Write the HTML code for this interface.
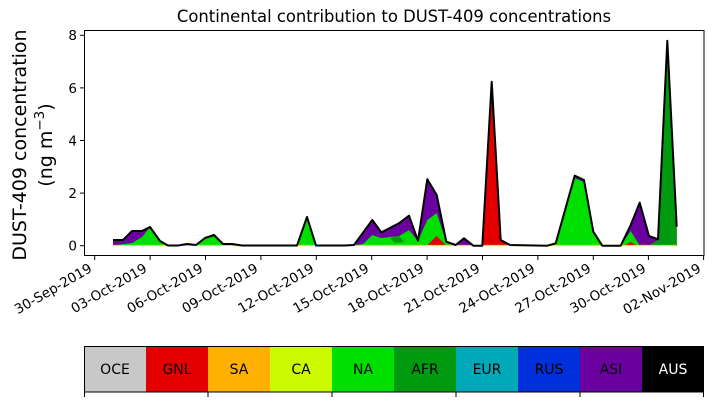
<!DOCTYPE html>
<html><head><meta charset="utf-8"><style>
html,body{margin:0;padding:0;background:#fff;}
svg{display:block;font-family:"DejaVu Sans","Liberation Sans",sans-serif;}
</style></head><body>
<svg width="714" height="402" viewBox="0 0 714 402" xmlns="http://www.w3.org/2000/svg">
<rect width="714" height="402" fill="#fff"/>
<text x="394" y="22" font-size="16.4" text-anchor="middle">Continental contribution to DUST-409 concentrations</text>
<text transform="translate(26,145) rotate(-90)" font-size="19" text-anchor="middle">DUST-409 concentration</text>
<text transform="translate(52,145) rotate(-90)" font-size="19" text-anchor="middle">(ng m<tspan dy="-8" font-size="13.5">−3</tspan><tspan dy="8">)</tspan></text>

<polygon fill="#6a00a0" points="113,245.5 113,240 123,240 132,231 142,231 150,227 160,241 168,245.5 178,245.5 187,244 196,245 205,238 214,235 223,244 232,244 242,245.5 297,245.5 307,217 316,245.5 345,245.5 354,245 372.3,220 381.3,232.3 399,223.3 409,215.7 418,240.7 427.3,179.3 436.7,195 446.3,241.7 455.7,245 464,238.3 473.3,245.7 482.3,245.7 491.7,81.7 500.7,240 510,245 547.3,245.7 555.7,243.3 574.7,175.7 584,180 593.3,231.7 602.3,245.7 620.7,245.7 630.7,225 639.7,202.7 649,236 658,239.3 667.3,40.7 676.7,226.7 676.7,245.7"/>
<polygon fill="#00e000" points="113,245.5 132,243 142,237 150,227 160,241 168,245.5 187,245 196,245 205,238 214,235 223,244.5 232,245 297,245.5 307,219 316,245.5 354,245.5 363,244 372.3,235 381.3,238 399,236 409,230 418,241 427.3,220 436.7,213 446.3,242 455.7,245.5 547,245.5 555.7,244 574.7,178 584,182 593.3,232 602.3,245.7 620.7,245.7 630.7,231 639.7,245.5 649,245.5 658,240 667.3,243 676.7,226.7 676.7,245.7"/>
<polygon fill="#009a10" points="390,238 399,236 404,242 395,243"/>
<polygon fill="#009a10" points="649,245.5 658,240 667.3,41 676.7,227 676.7,245.7 670,245.7"/>
<polygon fill="#e40000" points="482.3,245.7 491.7,100 500.7,241 510,245.7"/>
<polygon fill="#e40000" points="427,245.5 436.7,236 446,245.5"/>
<polygon fill="#e40000" points="624,245.5 630.7,242 637,245.5"/>
<polyline fill="none" stroke="#e8e800" stroke-width="1.2" points="113,245.5 676,245.5"/>
<polyline fill="none" stroke="#000" stroke-width="2" stroke-linejoin="round" points="113,240 123,240 132,231 142,231 150,227 160,241 168,245.5 178,245.5 187,244 196,245 205,238 214,235 223,244 232,244 242,245.5 297,245.5 307,217 316,245.5 345,245.5 354,245 372.3,220 381.3,232.3 399,223.3 409,215.7 418,240.7 427.3,179.3 436.7,195 446.3,241.7 455.7,245 464,238.3 473.3,245.7 482.3,245.7 491.7,81.7 500.7,240 510,245 547.3,245.7 555.7,243.3 574.7,175.7 584,180 593.3,231.7 602.3,245.7 620.7,245.7 630.7,225 639.7,202.7 649,236 658,239.3 667.3,40.7 676.7,226.7"/>

<rect x="84.5" y="30.5" width="619.5" height="225" fill="none" stroke="#000" stroke-width="1"/>
<g stroke="#000" stroke-width="1">
<line x1="80" y1="245.7" x2="84" y2="245.7"/><line x1="80" y1="193.1" x2="84" y2="193.1"/>
<line x1="80" y1="140.5" x2="84" y2="140.5"/><line x1="80" y1="87.9" x2="84" y2="87.9"/>
<line x1="80" y1="35.3" x2="84" y2="35.3"/>
</g>
<g font-size="13.5" text-anchor="end">
<text x="77" y="250.5">0</text><text x="77" y="198">2</text><text x="77" y="145.5">4</text><text x="77" y="92.8">6</text><text x="77" y="40.2">8</text>
</g>
<g stroke="#000" stroke-width="1">
<line x1="94.7" y1="256" x2="94.7" y2="260"/><line x1="150.1" y1="256" x2="150.1" y2="260"/>
<line x1="205.5" y1="256" x2="205.5" y2="260"/><line x1="260.9" y1="256" x2="260.9" y2="260"/>
<line x1="316.3" y1="256" x2="316.3" y2="260"/><line x1="371.7" y1="256" x2="371.7" y2="260"/>
<line x1="427.1" y1="256" x2="427.1" y2="260"/><line x1="482.5" y1="256" x2="482.5" y2="260"/>
<line x1="537.9" y1="256" x2="537.9" y2="260"/><line x1="593.3" y1="256" x2="593.3" y2="260"/>
<line x1="648.4" y1="256" x2="648.4" y2="260"/><line x1="703.6" y1="256" x2="703.6" y2="260"/>
</g>
<g font-size="13.5" text-anchor="end">
<text transform="translate(93,271) rotate(-30)">30-Sep-2019</text>
<text transform="translate(148,271) rotate(-30)">03-Oct-2019</text>
<text transform="translate(204,271) rotate(-30)">06-Oct-2019</text>
<text transform="translate(259,271) rotate(-30)">09-Oct-2019</text>
<text transform="translate(315,271) rotate(-30)">12-Oct-2019</text>
<text transform="translate(370,271) rotate(-30)">15-Oct-2019</text>
<text transform="translate(425,271) rotate(-30)">18-Oct-2019</text>
<text transform="translate(481,271) rotate(-30)">21-Oct-2019</text>
<text transform="translate(536,271) rotate(-30)">24-Oct-2019</text>
<text transform="translate(592,271) rotate(-30)">27-Oct-2019</text>
<text transform="translate(647,271) rotate(-30)">30-Oct-2019</text>
<text transform="translate(702,271) rotate(-30)">02-Nov-2019</text>
</g>

<g font-size="14" text-anchor="middle">
<rect x="84" y="346" width="62" height="46" fill="#c8c8c8"/>
<rect x="146" y="346" width="62" height="46" fill="#e40000"/>
<rect x="208" y="346" width="62" height="46" fill="#ffb000"/>
<rect x="270" y="346" width="62" height="46" fill="#ccfa00"/>
<rect x="332" y="346" width="62" height="46" fill="#00e000"/>
<rect x="394" y="346" width="62" height="46" fill="#009a10"/>
<rect x="456" y="346" width="62" height="46" fill="#00a8b8"/>
<rect x="518" y="346" width="62" height="46" fill="#0030dc"/>
<rect x="580" y="346" width="62" height="46" fill="#6a00a0"/>
<rect x="642" y="346" width="62" height="46" fill="#000"/>
<text x="115" y="374">OCE</text><text x="177" y="374">GNL</text><text x="239" y="374">SA</text>
<text x="301" y="374">CA</text><text x="363" y="374">NA</text><text x="425" y="374">AFR</text>
<text x="487" y="374">EUR</text><text x="549" y="374">RUS</text><text x="611" y="374">ASI</text>
<text x="673" y="374" fill="#fff">AUS</text>
</g>
<rect x="84.5" y="346.5" width="619" height="45.5" fill="none" stroke="#000"/>
<g stroke="#000">
<line x1="84.5" y1="392" x2="84.5" y2="397"/><line x1="208" y1="392" x2="208" y2="397"/>
<line x1="332" y1="392" x2="332" y2="397"/><line x1="456" y1="392" x2="456" y2="397"/>
<line x1="580" y1="392" x2="580" y2="397"/><line x1="703.5" y1="392" x2="703.5" y2="397"/>
</g>
</svg>
</body></html>
